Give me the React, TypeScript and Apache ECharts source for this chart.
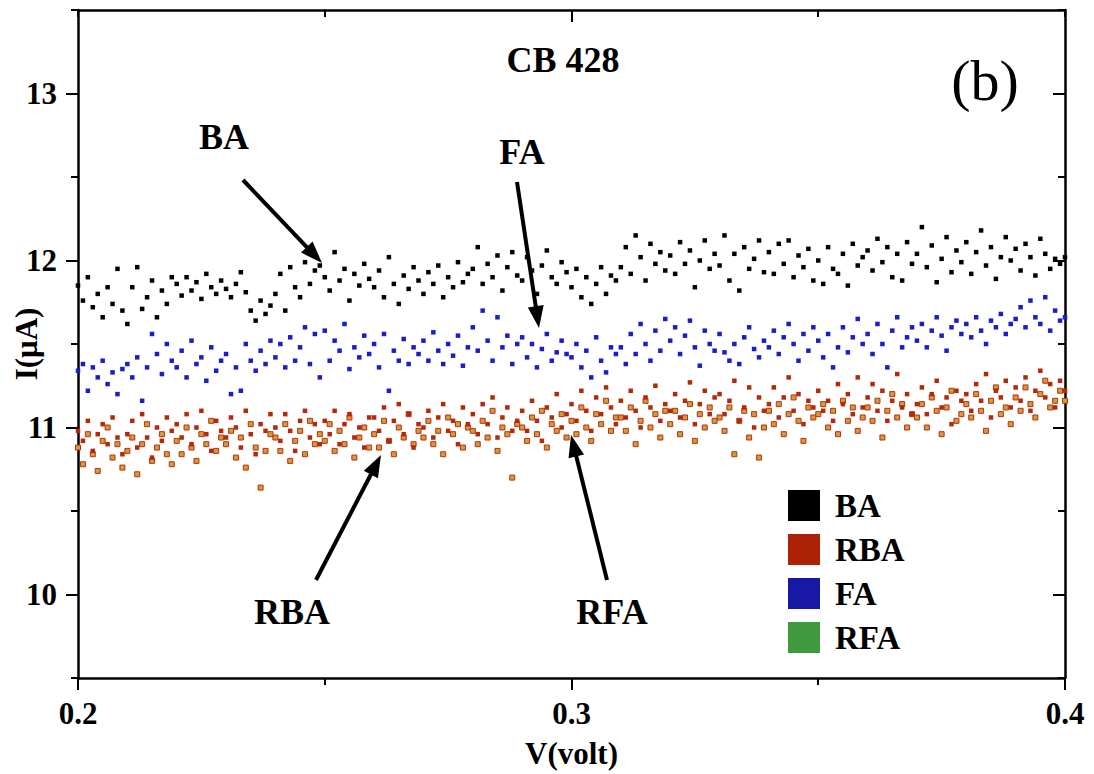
import React, { useEffect, useRef } from "react";
import * as echarts from "echarts";

// Voltage sweep (V)
const V = [
  0.200, 0.201, 0.202, 0.203, 0.204, 0.205, 0.206, 0.207, 0.208, 0.209,
  0.210, 0.211, 0.212, 0.213, 0.214, 0.215, 0.216, 0.217, 0.218, 0.219,
  0.220, 0.221, 0.222, 0.223, 0.224, 0.225, 0.226, 0.227, 0.228, 0.229,
  0.230, 0.231, 0.232, 0.233, 0.234, 0.235, 0.236, 0.237, 0.238, 0.239,
  0.240, 0.241, 0.242, 0.243, 0.244, 0.245, 0.246, 0.247, 0.248, 0.249,
  0.250, 0.251, 0.252, 0.253, 0.254, 0.255, 0.256, 0.257, 0.258, 0.259,
  0.260, 0.261, 0.262, 0.263, 0.264, 0.265, 0.266, 0.267, 0.268, 0.269,
  0.270, 0.271, 0.272, 0.273, 0.274, 0.275, 0.276, 0.277, 0.278, 0.279,
  0.280, 0.281, 0.282, 0.283, 0.284, 0.285, 0.286, 0.287, 0.288, 0.289,
  0.290, 0.291, 0.292, 0.293, 0.294, 0.295, 0.296, 0.297, 0.298, 0.299,
  0.300, 0.301, 0.302, 0.303, 0.304, 0.305, 0.306, 0.307, 0.308, 0.309,
  0.310, 0.311, 0.312, 0.313, 0.314, 0.315, 0.316, 0.317, 0.318, 0.319,
  0.320, 0.321, 0.322, 0.323, 0.324, 0.325, 0.326, 0.327, 0.328, 0.329,
  0.330, 0.331, 0.332, 0.333, 0.334, 0.335, 0.336, 0.337, 0.338, 0.339,
  0.340, 0.341, 0.342, 0.343, 0.344, 0.345, 0.346, 0.347, 0.348, 0.349,
  0.350, 0.351, 0.352, 0.353, 0.354, 0.355, 0.356, 0.357, 0.358, 0.359,
  0.360, 0.361, 0.362, 0.363, 0.364, 0.365, 0.366, 0.367, 0.368, 0.369,
  0.370, 0.371, 0.372, 0.373, 0.374, 0.375, 0.376, 0.377, 0.378, 0.379,
  0.380, 0.381, 0.382, 0.383, 0.384, 0.385, 0.386, 0.387, 0.388, 0.389,
  0.390, 0.391, 0.392, 0.393, 0.394, 0.395, 0.396, 0.397, 0.398, 0.399,
  0.400,
];

// Current I (µA) per series
const BA = [
  11.85, 11.76, 11.90, 11.72, 11.80, 11.66, 11.84, 11.74, 11.95, 11.70,
  11.62, 11.84, 11.96, 11.71, 11.78, 11.88, 11.66, 11.82, 11.74, 11.90,
  11.86, 11.79, 11.90, 11.82, 11.87, 11.77, 11.92, 11.84, 11.80, 11.88,
  11.83, 11.78, 11.86, 11.93, 11.81, 11.70, 11.64, 11.76, 11.68, 11.73,
  11.80, 11.92, 11.70, 11.96, 11.84, 11.78, 11.99, 11.86, 11.94, 11.97,
  11.90, 11.82, 12.05, 11.88, 11.95, 11.76, 11.92, 11.85, 11.98, 11.89,
  11.84, 11.94, 11.78, 12.02, 11.86, 11.74, 11.91, 11.83, 11.96, 11.88,
  11.80, 11.93, 11.86, 11.97, 11.78, 11.90, 11.84, 11.99, 11.87, 11.92,
  11.95, 12.08, 11.86, 11.98, 11.90, 12.03, 11.82, 11.96, 12.05, 11.91,
  11.88, 12.02, 11.94, 11.80, 11.97, 12.06, 11.90, 11.86, 11.99, 11.93,
  11.84, 11.95, 11.78, 11.90, 11.74, 11.86, 11.96, 11.80, 11.91, 11.88,
  11.96, 12.08, 11.92, 12.15, 12.02, 11.88, 12.10, 11.98, 12.05, 11.94,
  12.03, 11.92, 12.11, 11.98, 12.06, 11.84, 12.00, 12.12, 11.95, 12.04,
  11.97, 12.15, 11.88, 12.04, 11.82, 12.08, 11.95, 12.01, 12.12, 11.93,
  12.05, 11.92, 12.10, 11.98, 12.12, 11.90, 12.03, 11.96, 12.07, 11.88,
  12.00, 11.86, 12.08, 11.95, 11.92, 12.04, 11.85, 12.10, 11.97, 12.02,
  12.06, 11.94, 12.13, 11.99, 12.08, 11.90, 12.04, 11.88, 12.11, 11.98,
  12.04, 12.20, 11.96, 12.09, 11.87, 12.01, 12.14, 11.93, 12.06, 11.99,
  12.11, 11.92, 12.05, 12.18, 11.97, 12.08, 11.89, 12.02, 12.14, 12.00,
  12.07, 11.94, 12.10, 12.02, 11.91, 12.13, 12.04, 11.95, 12.01, 11.98,
  12.02,
];

const FA = [
  11.34, 11.38, 11.22, 11.36, 11.30, 11.40, 11.26, 11.33, 11.20, 11.35,
  11.38, 11.30, 11.42, 11.16, 11.36, 11.56, 11.44, 11.32, 11.50, 11.40,
  11.36, 11.46, 11.30, 11.52, 11.38, 11.42, 11.28, 11.48, 11.34, 11.40,
  11.44, 11.20, 11.36, 11.22, 11.50, 11.40, 11.34, 11.46, 11.38, 11.52,
  11.42, 11.50, 11.36, 11.54, 11.40, 11.48, 11.60, 11.38, 11.56, 11.30,
  11.58, 11.40, 11.52, 11.46, 11.62, 11.35, 11.48, 11.42, 11.55, 11.44,
  11.50, 11.36, 11.56, 11.22, 11.46, 11.40, 11.53, 11.38, 11.48, 11.44,
  11.52, 11.40, 11.57, 11.46, 11.38, 11.50, 11.43, 11.55, 11.37, 11.48,
  11.60, 11.46, 11.70, 11.52, 11.40, 11.66, 11.48, 11.55, 11.38, 11.50,
  11.54, 11.42, 11.50, 11.36, 11.47, 11.56, 11.40, 11.45, 11.52, 11.44,
  11.42, 11.50, 11.36, 11.46, 11.30, 11.54, 11.40, 11.33, 11.48, 11.44,
  11.48, 11.38, 11.56, 11.44, 11.62, 11.50, 11.40, 11.58, 11.46, 11.65,
  11.52, 11.60, 11.44, 11.55, 11.64, 11.48, 11.37, 11.58, 11.50, 11.46,
  11.56, 11.45, 11.40, 11.50, 11.38, 11.54, 11.60, 11.47, 11.42, 11.52,
  11.48, 11.58, 11.44, 11.54, 11.62, 11.50, 11.40, 11.56, 11.46, 11.60,
  11.52, 11.42, 11.56, 11.36, 11.48, 11.60, 11.45, 11.54, 11.65, 11.50,
  11.56, 11.44, 11.62, 11.50, 11.36, 11.58, 11.66, 11.48, 11.54, 11.60,
  11.52, 11.62, 11.48, 11.58, 11.66, 11.55, 11.46, 11.60, 11.64, 11.56,
  11.62, 11.54, 11.66, 11.58, 11.50, 11.64, 11.60, 11.68, 11.56, 11.62,
  11.65, 11.72, 11.60, 11.76, 11.66, 11.62, 11.78, 11.58, 11.70, 11.64,
  11.66,
];

const RBA = [
  10.98, 10.92, 11.04, 10.86, 10.96, 11.02, 10.90, 11.06, 10.94, 10.84,
  10.96, 11.04, 10.88, 11.08, 10.94, 10.82, 11.00, 10.92, 11.06, 10.98,
  11.02, 10.94, 11.08, 10.90, 11.00, 11.10, 10.96, 10.86, 11.04, 10.98,
  10.94, 11.06, 11.00, 10.88, 11.10, 10.96, 10.84, 11.02, 10.98, 11.08,
  11.00, 10.92, 11.08, 10.98, 10.86, 11.04, 11.10, 10.94, 11.02, 10.90,
  11.04, 10.96, 11.10, 10.90, 11.02, 11.08, 10.94, 11.00, 10.88, 11.06,
  11.06, 10.98, 11.12, 10.92, 11.04, 11.14, 10.96, 11.08, 10.88, 11.02,
  11.00, 11.10, 10.94, 11.06, 11.14, 10.98, 11.04, 10.90, 11.12, 11.02,
  11.08, 10.96, 11.14, 11.02, 11.18, 10.94, 11.06, 11.12, 10.98, 11.04,
  11.10, 10.98, 11.16, 11.04, 10.92, 11.12, 11.06, 11.20, 11.00, 11.08,
  11.14, 11.04, 11.22, 11.10, 10.98, 11.18, 11.08, 11.24, 11.12, 11.02,
  11.16, 11.06, 11.22, 11.10, 11.00, 11.18, 11.12, 11.25, 11.04, 11.14,
  11.10, 11.20, 11.06, 11.16, 11.27, 11.02, 11.14, 11.22, 11.08, 11.18,
  11.20, 11.08, 11.16, 11.28, 11.04, 11.12, 11.24, 11.00, 11.18, 11.10,
  11.14, 11.24, 11.06, 11.18, 11.30, 11.10, 11.20, 11.02, 11.16, 11.12,
  11.22, 11.10, 11.16, 11.04, 11.26, 11.14, 11.20, 11.08, 11.30, 11.12,
  11.18, 11.26, 11.10, 11.22, 11.04, 11.16, 11.32, 11.12, 11.20, 11.08,
  11.14, 11.24, 11.08, 11.20, 11.28, 11.12, 11.18, 11.02, 11.22, 11.16,
  11.20, 11.10, 11.26, 11.16, 11.32, 11.06, 11.22, 11.18, 11.28, 11.12,
  11.24, 11.16, 11.30, 11.10, 11.22, 11.34, 11.18, 11.26, 11.12, 11.28,
  11.22,
];

const RFA = [
  10.88, 10.78, 10.96, 10.84, 10.74, 10.92, 11.00, 10.82, 10.90, 10.76,
  10.86, 10.94, 10.72, 10.90, 11.02, 10.80, 10.88, 10.96, 10.84, 10.78,
  10.92, 10.84, 11.00, 10.88, 10.80, 10.96, 10.90, 11.04, 10.86, 10.94,
  10.90, 10.98, 10.82, 10.94, 10.76, 11.02, 10.88, 10.64, 10.86, 10.96,
  10.94, 10.86, 11.02, 10.80, 10.92, 10.98, 10.84, 11.04, 10.90, 10.96,
  10.92, 11.02, 10.86, 10.98, 10.90, 11.06, 10.82, 10.94, 11.00, 10.88,
  10.96, 10.88, 11.04, 10.92, 10.84, 11.00, 10.94, 11.08, 10.90, 10.98,
  10.94, 11.04, 10.90, 10.98, 10.84, 11.06, 10.96, 11.02, 10.88, 11.00,
  10.98, 10.90, 11.04, 10.94, 11.10, 10.86, 11.00, 10.96, 10.70, 11.02,
  11.00, 10.92, 11.06, 10.96, 11.10, 10.88, 11.02, 10.98, 11.08, 10.94,
  11.04, 10.96, 11.12, 11.00, 10.92, 11.08, 11.02, 11.16, 10.98, 11.06,
  11.06, 10.98, 11.12, 10.90, 11.04, 11.16, 11.00, 11.08, 10.94, 11.10,
  11.02, 11.10, 10.96, 11.06, 11.14, 10.92, 11.08, 11.00, 11.12, 11.04,
  11.06, 10.98, 11.12, 10.84, 11.04, 11.10, 10.94, 11.08, 10.82, 11.00,
  11.10, 11.02, 11.14, 10.96, 11.08, 11.18, 11.04, 10.92, 11.12, 11.06,
  11.08, 11.14, 11.00, 11.10, 10.96, 11.16, 11.04, 11.12, 10.98, 11.06,
  11.12, 11.04, 11.16, 10.94, 11.10, 11.20, 11.06, 11.14, 11.00, 11.08,
  11.06, 11.14, 11.00, 11.18, 11.10, 10.96, 11.12, 11.22, 11.04, 11.08,
  11.14, 11.06, 11.20, 11.10, 10.98, 11.16, 11.24, 11.08, 11.12, 11.02,
  11.18, 11.10, 11.24, 11.14, 11.06, 11.20, 11.28, 11.12, 11.16, 11.22,
  11.16,
];

const X_LABELS = [0.2, 0.3, 0.4];
const Y_LABELS = [10, 11, 12, 13];

const FONT = "'Liberation Serif', 'Times New Roman', serif";

const pairs = (ys: number[]) => V.map((v, i) => [v, ys[i]]);

function arrow(x1: number, y1: number, x2: number, y2: number) {
  const dx = x2 - x1;
  const dy = y2 - y1;
  const len = Math.sqrt(dx * dx + dy * dy);
  const ux = dx / len;
  const uy = dy / len;
  const headLen = 22;
  const halfW = 8;
  const bx = x2 - ux * headLen;
  const by = y2 - uy * headLen;
  const px = -uy;
  const py = ux;
  return [
    {
      type: "line",
      shape: { x1, y1, x2: bx + ux * 2, y2: by + uy * 2 },
      style: { stroke: "#000", lineWidth: 4 },
      silent: true,
    },
    {
      type: "polygon",
      shape: {
        points: [
          [x2, y2],
          [bx + px * halfW, by + py * halfW],
          [bx - px * halfW, by - py * halfW],
        ],
      },
      style: { fill: "#000" },
      silent: true,
    },
  ];
}

function label(text: string, x: number, y: number, size: number, weight: string) {
  return {
    type: "text",
    x,
    y,
    style: {
      text,
      fill: "#000",
      font: `${weight} ${size}px ${FONT}`,
      textAlign: "center",
      textVerticalAlign: "middle",
    },
    silent: true,
  };
}

export default function App() {
  const ref = useRef<HTMLDivElement>(null);

  useEffect(() => {
    if (!ref.current) return;
    const chart = echarts.init(ref.current, undefined, { renderer: "svg" });

    const axisLineStyle = { color: "#000", width: 2.5 };
    const tickStyle = { color: "#000", width: 2 };
    const labelStyle = {
      color: "#000",
      fontFamily: FONT,
      fontWeight: "bold" as const,
      fontSize: 31,
    };

    const baseX = { type: "value" as const, min: 0.2, max: 0.4, splitLine: { show: false } };
    const baseY = { type: "value" as const, min: 9.5, max: 13.5, splitLine: { show: false } };

    const option = {
      animation: false,
      backgroundColor: "#ffffff",
      grid: {
        left: 78,
        right: 29,
        top: 10,
        bottom: 96,
        containLabel: false,
        outerBoundsMode: "none",
      },
      xAxis: [
        {
          ...baseX,
          position: "bottom",
          axisLine: { show: true, lineStyle: axisLineStyle },
          axisTick: { show: true, inside: false, length: 12, customValues: X_LABELS, lineStyle: tickStyle },
          axisLabel: {
            show: true,
            customValues: X_LABELS,
            margin: 20,
            formatter: (v: number) => v.toFixed(1),
            ...labelStyle,
          },
          name: "V(volt)",
          nameLocation: "middle",
          nameGap: 60,
          nameMoveOverlap: false,
          nameTextStyle: { ...labelStyle },
        },
        {
          ...baseX,
          interval: 0.05,
          position: "bottom",
          axisLine: { show: false },
          axisTick: { show: true, inside: false, length: 7, lineStyle: tickStyle },
          axisLabel: { show: false },
        },
        {
          ...baseX,
          position: "top",
          axisLine: { show: true, lineStyle: axisLineStyle },
          axisTick: { show: true, inside: true, length: 12, customValues: [0.3], lineStyle: tickStyle },
          axisLabel: { show: false },
        },
        {
          ...baseX,
          interval: 0.05,
          position: "top",
          axisLine: { show: false },
          axisTick: { show: true, inside: true, length: 7, lineStyle: tickStyle },
          axisLabel: { show: false },
        },
      ],
      yAxis: [
        {
          ...baseY,
          position: "left",
          axisLine: { show: true, lineStyle: axisLineStyle },
          axisTick: { show: true, inside: false, length: 12, customValues: Y_LABELS, lineStyle: tickStyle },
          axisLabel: { show: true, customValues: Y_LABELS, margin: 21, ...labelStyle },
          name: "I(μA)",
          nameLocation: "middle",
          nameGap: 36,
          nameMoveOverlap: false,
          nameTextStyle: { ...labelStyle, fontSize: 31 },
        },
        {
          ...baseY,
          interval: 0.5,
          position: "left",
          axisLine: { show: false },
          axisTick: { show: true, inside: false, length: 7, lineStyle: tickStyle },
          axisLabel: { show: false },
        },
        {
          ...baseY,
          position: "right",
          axisLine: { show: true, lineStyle: axisLineStyle },
          axisTick: { show: true, inside: true, length: 12, customValues: Y_LABELS, lineStyle: tickStyle },
          axisLabel: { show: false },
        },
        {
          ...baseY,
          interval: 0.5,
          position: "right",
          axisLine: { show: false },
          axisTick: { show: true, inside: true, length: 7, lineStyle: tickStyle },
          axisLabel: { show: false },
        },
      ],
      legend: {
        orient: "vertical",
        left: 788,
        top: 489,
        padding: 0,
        itemWidth: 32,
        itemHeight: 31,
        itemGap: 11,
        icon: "rect",
        selectedMode: false,
        textStyle: { ...labelStyle, fontSize: 33, padding: [0, 0, 0, 10] },
        data: [
          { name: "BA", itemStyle: { color: "#000000", borderWidth: 0, opacity: 1 } },
          { name: "RBA", itemStyle: { color: "#ad2206", borderWidth: 0, opacity: 1 } },
          { name: "FA", itemStyle: { color: "#1818a6", borderWidth: 0, opacity: 1 } },
          { name: "RFA", itemStyle: { color: "#40993f", borderWidth: 0, opacity: 1 } },
        ],
      },
      series: [
        {
          name: "BA",
          type: "scatter",
          xAxisIndex: 0,
          yAxisIndex: 0,
          symbol: "rect",
          symbolSize: 4.5,
          itemStyle: { color: "#000000", opacity: 1 },
          data: pairs(BA),
        },
        {
          name: "FA",
          type: "scatter",
          xAxisIndex: 0,
          yAxisIndex: 0,
          symbol: "rect",
          symbolSize: 4.5,
          itemStyle: { color: "#1a1ec8", opacity: 1 },
          data: pairs(FA),
        },
        {
          name: "RFA",
          type: "scatter",
          xAxisIndex: 0,
          yAxisIndex: 0,
          symbol: "rect",
          symbolSize: 5,
          itemStyle: { color: "#d39a3c", borderColor: "#b8320e", borderWidth: 1, opacity: 1 },
          data: pairs(RFA),
        },
        {
          name: "RBA",
          type: "scatter",
          xAxisIndex: 0,
          yAxisIndex: 0,
          symbol: "rect",
          symbolSize: 4.5,
          itemStyle: { color: "#b5280a", opacity: 1 },
          data: pairs(RBA),
        },
      ],
      graphic: [
        label("CB 428", 563, 60, 36, "bold"),
        label("(b)", 985, 80, 58, "normal"),
        label("BA", 224, 137, 36, "bold"),
        label("FA", 522, 152, 36, "bold"),
        label("RBA", 292, 612, 36, "bold"),
        label("RFA", 612, 612, 36, "bold"),
        ...arrow(243, 180, 322, 263),
        ...arrow(517, 182, 539, 328),
        ...arrow(316, 580, 381, 455),
        ...arrow(607, 580, 571, 435),
      ],
    };

    chart.setOption(option as any);
    return () => chart.dispose();
  }, []);

  return (
    <div
      ref={ref}
      style={{ position: "fixed", left: 0, top: 0, width: 1094, height: 774, background: "#fff" }}
    />
  );
}
